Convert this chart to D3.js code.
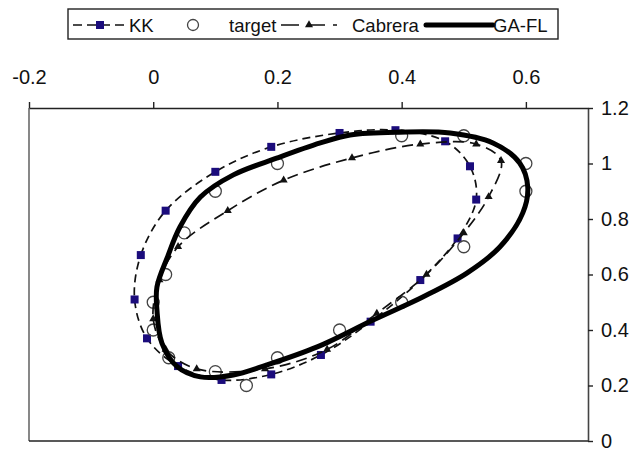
<!DOCTYPE html>
<html>
<head>
<meta charset="utf-8">
<script src="https://cdn.jsdelivr.net/npm/d3@7"></script>
<style>
  html, body { margin: 0; padding: 0; background: #fff; }
  svg { display: block; font-family: "Liberation Sans", Arial, sans-serif; }
  .tick-label { font-size: 20px; fill: #111; }
  .legend-text { font-size: 18.5px; fill: #111; }
</style>
</head>
<body>
<svg id="chart" width="635" height="449"></svg>
<script>
// ============== Data ==============
const xTicks = [-0.2, 0, 0.2, 0.4, 0.6];
const yTicks = [0, 0.2, 0.4, 0.6, 0.8, 1, 1.2];

const kk = [
  [-0.03, 0.51], [-0.02, 0.67], [0.02, 0.83], [0.10, 0.97], [0.19, 1.06], [0.30, 1.11],
  [0.39, 1.12], [0.47, 1.08], [0.51, 0.99], [0.52, 0.87], [0.49, 0.73], [0.43, 0.58],
  [0.35, 0.43], [0.27, 0.31], [0.19, 0.24], [0.11, 0.22], [0.04, 0.27], [-0.01, 0.37]
];

const target = [
  [0, 0.5], [0.02, 0.6], [0.05, 0.75], [0.1, 0.9], [0.2, 1.0], [0.4, 1.1], [0.5, 1.1],
  [0.6, 1.0], [0.6, 0.9], [0.5, 0.7], [0.4, 0.5], [0.3, 0.4], [0.2, 0.3], [0.15, 0.2],
  [0.1, 0.25], [0.025, 0.3], [0, 0.4]
];

const cabrera = [
  [0.04, 0.70], [0.12, 0.83], [0.21, 0.94], [0.32, 1.02], [0.43, 1.07], [0.52, 1.07],
  [0.56, 1.01], [0.54, 0.88], [0.50, 0.75], [0.44, 0.60], [0.36, 0.46], [0.28, 0.33],
  [0.18, 0.26], [0.07, 0.26], [0.02, 0.33], [0.00, 0.44], [0.01, 0.58]
];

const gafl = [
  [0.006, 0.555], [0.023, 0.663], [0.043, 0.771], [0.076, 0.879], [0.129, 0.959],
  [0.20, 1.02], [0.269, 1.074], [0.317, 1.103], [0.397, 1.113], [0.478, 1.11],
  [0.547, 1.074], [0.59, 1.002], [0.603, 0.915], [0.595, 0.822], [0.558, 0.699],
  [0.505, 0.605], [0.434, 0.519], [0.354, 0.436], [0.264, 0.339], [0.183, 0.274],
  [0.129, 0.238], [0.076, 0.231], [0.039, 0.267], [0.014, 0.353], [0.006, 0.472]
];

const KK_BLUE = '#1b0c7c';

// ============== Chart ==============
const svg = d3.select('#chart');
const plot = { left: 29, right: 588, top: 108, bottom: 441 };

const x = d3.scaleLinear().domain([-0.2, 0.7]).range([plot.left, plot.right]);
const y = d3.scaleLinear().domain([0, 1.2]).range([plot.bottom, plot.top]);

const fmt = d => String(d);

// frame: left and bottom border of the plot area
svg.append('line').attr('x1', plot.left).attr('x2', plot.left).attr('y1', plot.top).attr('y2', plot.bottom)
  .attr('stroke', '#555').attr('stroke-width', 1.4);
svg.append('line').attr('x1', plot.left).attr('x2', plot.right).attr('y1', plot.bottom).attr('y2', plot.bottom)
  .attr('stroke', '#222').attr('stroke-width', 1.4);

// top x axis
const xAxis = svg.append('g').attr('transform', `translate(0,${plot.top})`)
  .call(d3.axisTop(x).tickValues(xTicks).tickSize(6).tickSizeOuter(0).tickFormat(fmt));
xAxis.select('.domain').attr('stroke', '#222').attr('stroke-width', 1.4);
xAxis.selectAll('.tick line').attr('stroke', '#222').attr('stroke-width', 1.4);
xAxis.selectAll('.tick text').attr('class', 'tick-label').attr('font-family', null).attr('font-size', null)
  .attr('y', -24);

// right y axis
const yAxis = svg.append('g').attr('transform', `translate(${plot.right},0)`)
  .call(d3.axisRight(y).tickValues(yTicks).tickSize(5).tickSizeOuter(0).tickFormat(fmt));
yAxis.select('.domain').attr('stroke', '#444').attr('stroke-width', 1.6);
yAxis.selectAll('.tick line').attr('stroke', '#222').attr('stroke-width', 1.4);
yAxis.selectAll('.tick text').attr('class', 'tick-label').attr('font-family', null).attr('font-size', null)
  .attr('x', 13);

const closedLine = d3.line().x(d => x(d[0])).y(d => y(d[1])).curve(d3.curveCatmullRomClosed.alpha(0.5));

const triangle = d3.symbol().type(d3.symbolTriangle).size(28);

// KK
svg.append('path').attr('d', closedLine(kk)).attr('fill', 'none')
  .attr('stroke', '#111').attr('stroke-width', 1.7).attr('stroke-dasharray', '8,5');
svg.append('g').selectAll('rect').data(kk).enter().append('rect')
  .attr('x', d => x(d[0]) - 4).attr('y', d => y(d[1]) - 4).attr('width', 8).attr('height', 8)
  .attr('fill', KK_BLUE);

// target
svg.append('g').selectAll('circle').data(target).enter().append('circle')
  .attr('cx', d => x(d[0])).attr('cy', d => y(d[1])).attr('r', 6)
  .attr('fill', 'none').attr('stroke', '#444').attr('stroke-width', 1.3);

// Cabrera
svg.append('path').attr('d', closedLine(cabrera)).attr('fill', 'none')
  .attr('stroke', '#111').attr('stroke-width', 1.7).attr('stroke-dasharray', '11,6');
svg.append('g').selectAll('path').data(cabrera).enter().append('path')
  .attr('d', triangle).attr('transform', d => `translate(${x(d[0])},${y(d[1])})`)
  .attr('fill', '#111');

// GA-FL
svg.append('path').attr('d', closedLine(gafl)).attr('fill', 'none')
  .attr('stroke', '#000').attr('stroke-width', 5);

// ============== Legend ==============
const lg = svg.append('g');
lg.append('rect').attr('x', 68).attr('y', 9).attr('width', 490).attr('height', 30)
  .attr('fill', '#fff').attr('stroke', '#222').attr('stroke-width', 1.4);
const ly = 25;

lg.append('line').attr('x1', 73).attr('x2', 126).attr('y1', ly).attr('y2', ly)
  .attr('stroke', '#111').attr('stroke-width', 1.6).attr('stroke-dasharray', '9,5');
lg.append('rect').attr('x', 96).attr('y', ly - 4).attr('width', 8).attr('height', 8).attr('fill', KK_BLUE);
lg.append('text').attr('class', 'legend-text').attr('x', 129).attr('y', ly + 7).text('KK');

lg.append('circle').attr('cx', 193).attr('cy', ly).attr('r', 5.5)
  .attr('fill', 'none').attr('stroke', '#444').attr('stroke-width', 1.3);
lg.append('text').attr('class', 'legend-text').attr('x', 229).attr('y', ly + 7).text('target');

lg.append('line').attr('x1', 281).attr('x2', 337).attr('y1', ly).attr('y2', ly)
  .attr('stroke', '#111').attr('stroke-width', 1.6).attr('stroke-dasharray', '18,8');
lg.append('path').attr('d', triangle).attr('transform', `translate(309,${ly})`).attr('fill', '#111');
lg.append('text').attr('class', 'legend-text').attr('x', 352).attr('y', ly + 7).text('Cabrera');

lg.append('line').attr('x1', 426).attr('x2', 493).attr('y1', ly).attr('y2', ly)
  .attr('stroke', '#000').attr('stroke-width', 5).attr('stroke-linecap', 'round');
lg.append('text').attr('class', 'legend-text').attr('x', 493).attr('y', ly + 7).text('GA-FL');
</script>
</body>
</html>
